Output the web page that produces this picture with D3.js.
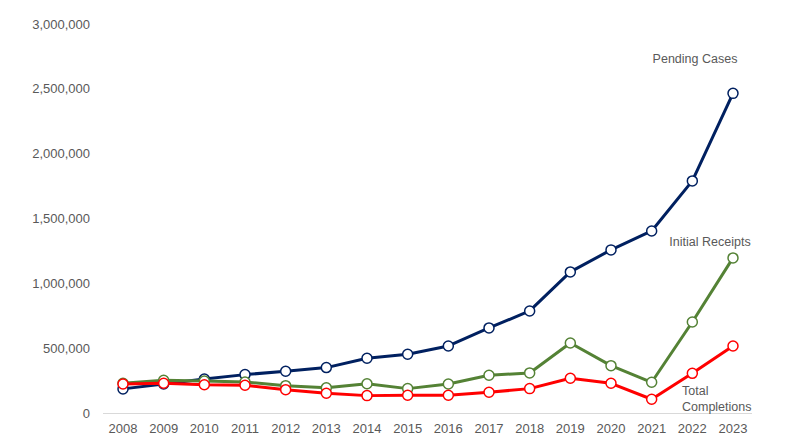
<!DOCTYPE html>
<html><head><meta charset="utf-8">
<script src="https://cdn.jsdelivr.net/npm/d3@7"></script>
<style>body{margin:0;background:#fff}text{font-family:"Liberation Sans",Arial,sans-serif}</style>
</head><body><svg id="c" width="795" height="442"></svg>
<script>
const years = [2008,2009,2010,2011,2012,2013,2014,2015,2016,2017,2018,2019,2020,2021,2022,2023];
const pending = [186000,224000,262000,296000,322000,350000,422000,453000,517000,656000,787000,1088000,1258000,1404000,1790000,2465000];
const receipts = [229000,252000,247000,239000,211000,195000,226000,188000,224000,291000,309000,540000,365000,237000,702000,1196000];
const completions = [224000,229000,218000,214000,180000,152000,134000,137000,137000,160000,188000,268000,229000,106000,306000,517000];
const yTicks = [0,500000,1000000,1500000,2000000,2500000,3000000];

const svg = d3.select("#c");
const x = d3.scalePoint().domain(years).range([123,733]);
const y = d3.scaleLinear().domain([0,3000000]).range([413,24]);

// y labels
svg.append("g").selectAll("text").data(yTicks).join("text")
  .attr("x",90).attr("y",d=>y(d)).attr("dy","0.35em").attr("text-anchor","end")
  .attr("font-size",13).attr("fill","#595959").text(d=>d3.format(",")(d));
// axis line
svg.append("line").attr("x1",103).attr("x2",752).attr("y1",y(0)+0.5).attr("y2",y(0)+0.5)
  .attr("stroke","#d9d9d9").attr("stroke-width",1);
// x labels
svg.append("g").selectAll("text").data(years).join("text")
  .attr("x",d=>x(d)).attr("y",433).attr("text-anchor","middle")
  .attr("font-size",13).attr("fill","#595959").text(d=>d);

const series = [
  {vals:pending,color:"#002060"},
  {vals:receipts,color:"#548235"},
  {vals:completions,color:"#ff0000"}
];
const line = d3.line().x((d,i)=>x(years[i])).y(d=>y(d));
series.forEach(s=>{
  svg.append("path").datum(s.vals).attr("d",line).attr("fill","none")
    .attr("stroke",s.color).attr("stroke-width",3).attr("stroke-linejoin","round");
  svg.append("g").selectAll("circle").data(s.vals).join("circle")
    .attr("cx",(d,i)=>x(years[i])).attr("cy",d=>y(d)).attr("r",5)
    .attr("fill","#fff").attr("stroke",s.color).attr("stroke-width",1.5);
});

const lab = (t,xx,yy,anchor)=>svg.append("text").attr("x",xx).attr("y",yy).attr("text-anchor",anchor||"start")
  .attr("font-size",12.5).attr("fill","#595959").text(t);
lab("Pending Cases",695,63,"middle");
lab("Initial Receipts",710,246,"middle");
lab("Total",682,395);
lab("Completions",682,411);
</script></body></html>
